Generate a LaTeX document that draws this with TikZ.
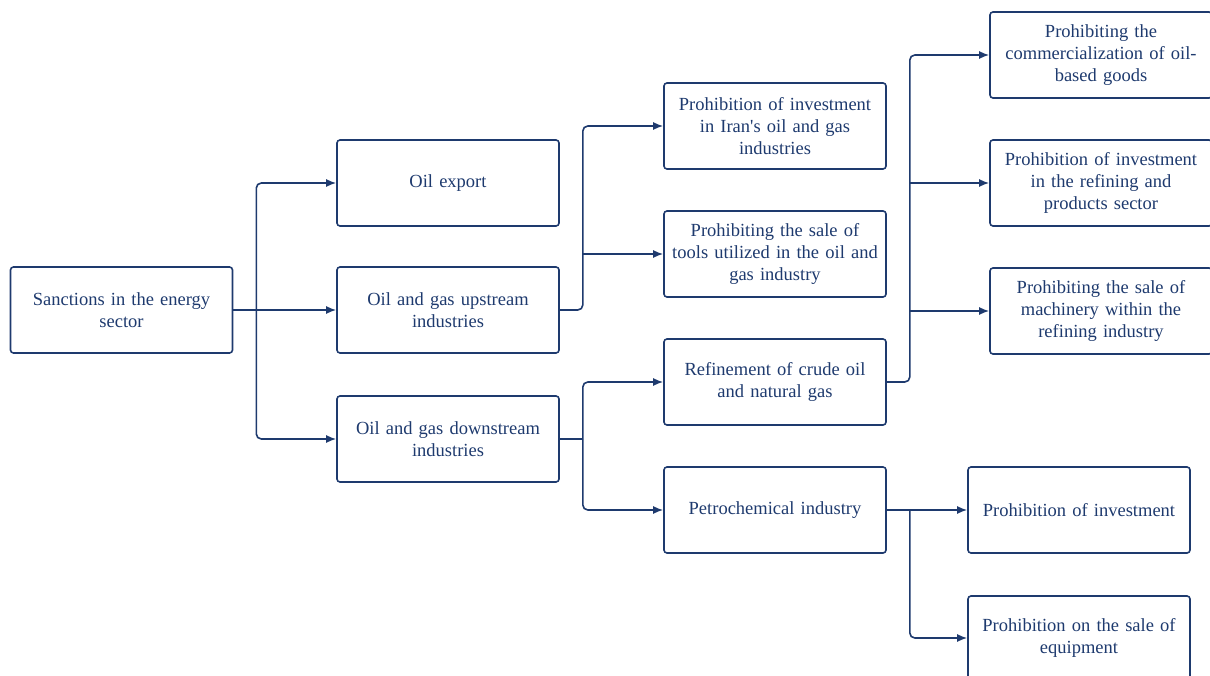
\documentclass[tikz,border=0pt]{standalone}
\usepackage{fontspec}
\setmainfont{Liberation Serif}
\usetikzlibrary{arrows.meta,calc}
\definecolor{navy}{HTML}{1E3A6E}
\begin{document}
\begin{tikzpicture}[x=1pt,y=-1pt,
  box/.style={draw=navy,line width=1.6pt,rounded corners=3pt,minimum width=222pt,minimum height=86pt,
    text width=216pt,align=center,inner sep=3pt,text=navy,font=\fontsize{18.5}{22}\selectfont},
  line/.style={draw=navy,line width=1.6pt,rounded corners=5pt},
  conn/.style={line,-{Latex[length=10pt,width=8pt]}}]
\useasboundingbox (0,0) rectangle (1210,676);
\node[box] (s) at (121.5,310) {Sanctions in the energy\\sector};
\node[box] (oe) at (448,183) {Oil export};
\node[box] (up) at (448,310) {Oil and gas upstream\\industries};
\node[box] (down) at (448,439) {Oil and gas downstream\\industries};
\node[box] (inv) at (775,126) {Prohibition of investment\\in Iran\textquotesingle s oil and gas\\industries};
\node[box] (tools) at (775,254) {Prohibiting the sale of\\tools utilized in the oil and\\gas industry};
\node[box] (ref) at (775,382) {Refinement of crude oil\\and natural gas};
\node[box] (pet) at (775,510) {Petrochemical industry};
\node[box,minimum width=220pt] (com) at (1101,55) {Prohibiting the\\commercialization of oil-\\based goods};
\node[box,minimum width=220pt] (rinv) at (1101,183) {Prohibition of investment\\in the refining and\\products sector};
\node[box,minimum width=220pt] (mach) at (1101,311) {Prohibiting the sale of\\machinery within the\\refining industry};
\node[box] (pinv) at (1079,510) {Prohibition of investment};
\node[box,minimum height=84pt] (equip) at (1079,638) {Prohibition on the sale of\\equipment};
\coordinate (j1) at ($(s.east)+(23,0)$);
\coordinate (j2) at ($(up.east)+(23,0)$);
\coordinate (j3) at ($(down.east)+(23,0)$);
\coordinate (j4) at ($(ref.east)+(23,0)$);
\coordinate (j5) at ($(pet.east)+(23,0)$);
\draw[conn] (s.east) -- (up.west);
\draw[conn] (j1) |- (oe.west);
\draw[conn] (j1) |- (down.west);
\draw[conn] (up.east) -- (j2) |- (inv.west);
\draw[conn] (j2 |- tools.west) -- (tools.west);
\draw[line] (down.east) -- (j3);
\draw[conn] (j3) |- (ref.west);
\draw[conn] (j3) |- (pet.west);
\draw[conn] (ref.east) -- (j4) |- (com.west);
\draw[conn] (j4 |- rinv.west) -- (rinv.west);
\draw[conn] (j4 |- mach.west) -- (mach.west);
\draw[conn] (pet.east) -- (pinv.west);
\draw[conn] (j5) |- (equip.west);
\end{tikzpicture}
\end{document}
